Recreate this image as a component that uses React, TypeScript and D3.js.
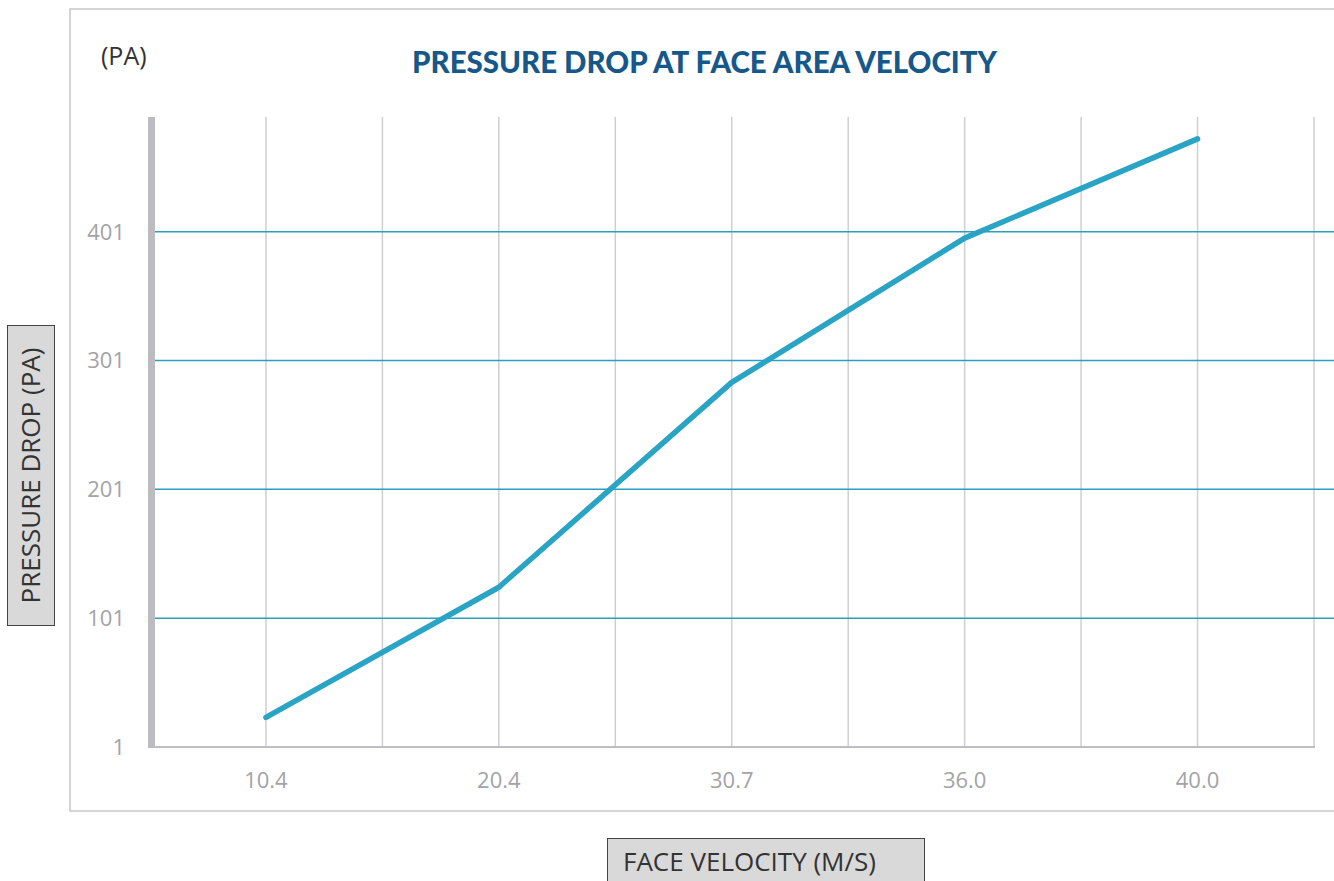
import { useEffect, useRef } from 'react';
import * as d3 from 'd3';

const categories = ['10.4', '20.4', '30.7', '36.0', '40.0'];
const pressure = [24, 125, 284, 396, 473];
const yTicks = [1, 101, 201, 301, 401];

export default function App() {
  const svgRef = useRef<SVGSVGElement>(null);

  useEffect(() => {
    if (!svgRef.current) return;
    const svg = d3.select(svgRef.current);
    svg.selectAll('*').remove();

    const left = 149.5;
    const right = 1314;
    const top = 117;
    const bottom = 747;

    const x = d3.scaleBand().domain(categories).range([left, right]).padding(0);
    const y = d3.scaleLinear().domain([1, 490]).range([bottom, top]);
    const bw = x.bandwidth();

    // outer frame
    svg.append('path')
      .attr('d', `M1334,9 H70 V811 H1334`)
      .attr('fill', 'none')
      .attr('stroke', '#c6c6ca')
      .attr('stroke-width', 1.5);

    svg.append('text')
      .attr('x', 412)
      .attr('y', 73)
      .attr('textLength', 585)
      .attr('lengthAdjust', 'spacingAndGlyphs')
      .attr('fill', '#17588a')
      .style('font-family', 'Lato, sans-serif')
      .style('font-weight', 900)
      .style('font-size', '31px')
      .text('PRESSURE DROP AT FACE AREA VELOCITY');

    svg.append('text')
      .attr('x', 101)
      .attr('y', 65)
      .attr('fill', '#333')
      .style('font-family', '"Open Sans", sans-serif')
      .style('font-size', '25px')
      .text('(PA)');

    // vertical grid: band centres and band edges
    const vx: number[] = [];
    categories.forEach(c => {
      vx.push(x(c)! + bw / 2);
      vx.push(x(c)! + bw);
    });
    svg.append('g')
      .selectAll('line')
      .data(vx)
      .join('line')
      .attr('x1', d => d)
      .attr('x2', d => d)
      .attr('y1', top)
      .attr('y2', bottom)
      .attr('stroke', '#cfcfd2')
      .attr('stroke-width', 1.5);

    // horizontal grid
    svg.append('g')
      .selectAll('line')
      .data(yTicks.slice(1))
      .join('line')
      .attr('x1', 155)
      .attr('x2', 1334)
      .attr('y1', d => y(d))
      .attr('y2', d => y(d))
      .attr('stroke', '#2a9fc2')
      .attr('stroke-width', 1.5);

    // x axis line
    svg.append('line')
      .attr('x1', 148)
      .attr('x2', right + 1)
      .attr('y1', bottom)
      .attr('y2', bottom)
      .attr('stroke', '#bdbdc2')
      .attr('stroke-width', 2);

    // thick y axis bar
    svg.append('rect')
      .attr('x', 148)
      .attr('y', top)
      .attr('width', 7)
      .attr('height', bottom - top + 1)
      .attr('fill', '#bcbcc0');

    // y tick labels
    svg.append('g')
      .selectAll('text')
      .data(yTicks)
      .join('text')
      .attr('x', 125)
      .attr('y', d => y(d) + 8)
      .attr('text-anchor', 'end')
      .attr('fill', '#a3a3a6')
      .style('font-family', '"Open Sans", sans-serif')
      .style('font-size', '22px')
      .text(d => d);

    // x tick labels
    svg.append('g')
      .selectAll('text')
      .data(categories)
      .join('text')
      .attr('x', d => x(d)! + bw / 2)
      .attr('y', 788)
      .attr('text-anchor', 'middle')
      .attr('fill', '#a3a3a6')
      .style('font-family', '"Open Sans", sans-serif')
      .style('font-size', '22px')
      .text(d => d);

    // series line
    const line = d3.line<number>()
      .x((_, i) => x(categories[i])! + bw / 2)
      .y(d => y(d));
    svg.append('path')
      .datum(pressure)
      .attr('d', line)
      .attr('fill', 'none')
      .attr('stroke', '#2aa4c5')
      .attr('stroke-width', 5.5)
      .attr('stroke-linecap', 'round')
      .attr('stroke-linejoin', 'round');

    // y axis title box
    svg.append('rect')
      .attr('x', 7.5)
      .attr('y', 325.5)
      .attr('width', 47)
      .attr('height', 300)
      .attr('fill', '#d9d9d9')
      .attr('stroke', '#444')
      .attr('stroke-width', 1);
    svg.append('text')
      .attr('transform', 'translate(40,475.5) rotate(-90)')
      .attr('text-anchor', 'middle')
      .attr('fill', '#333')
      .style('font-family', '"Open Sans", sans-serif')
      .style('font-size', '26px')
      .text('PRESSURE DROP (PA)');

    // x axis title box
    svg.append('rect')
      .attr('x', 607.5)
      .attr('y', 838.5)
      .attr('width', 317)
      .attr('height', 60)
      .attr('fill', '#d9d9d9')
      .attr('stroke', '#444')
      .attr('stroke-width', 1);
    svg.append('text')
      .attr('x', 623)
      .attr('y', 871)
      .attr('fill', '#333')
      .style('font-family', '"Open Sans", sans-serif')
      .style('font-size', '26px')
      .text('FACE VELOCITY (M/S)');
  }, []);

  return (
    <svg
      ref={svgRef}
      width={1334}
      height={881}
      style={{ position: 'absolute', left: 0, top: 0, background: '#fff' }}
    />
  );
}
